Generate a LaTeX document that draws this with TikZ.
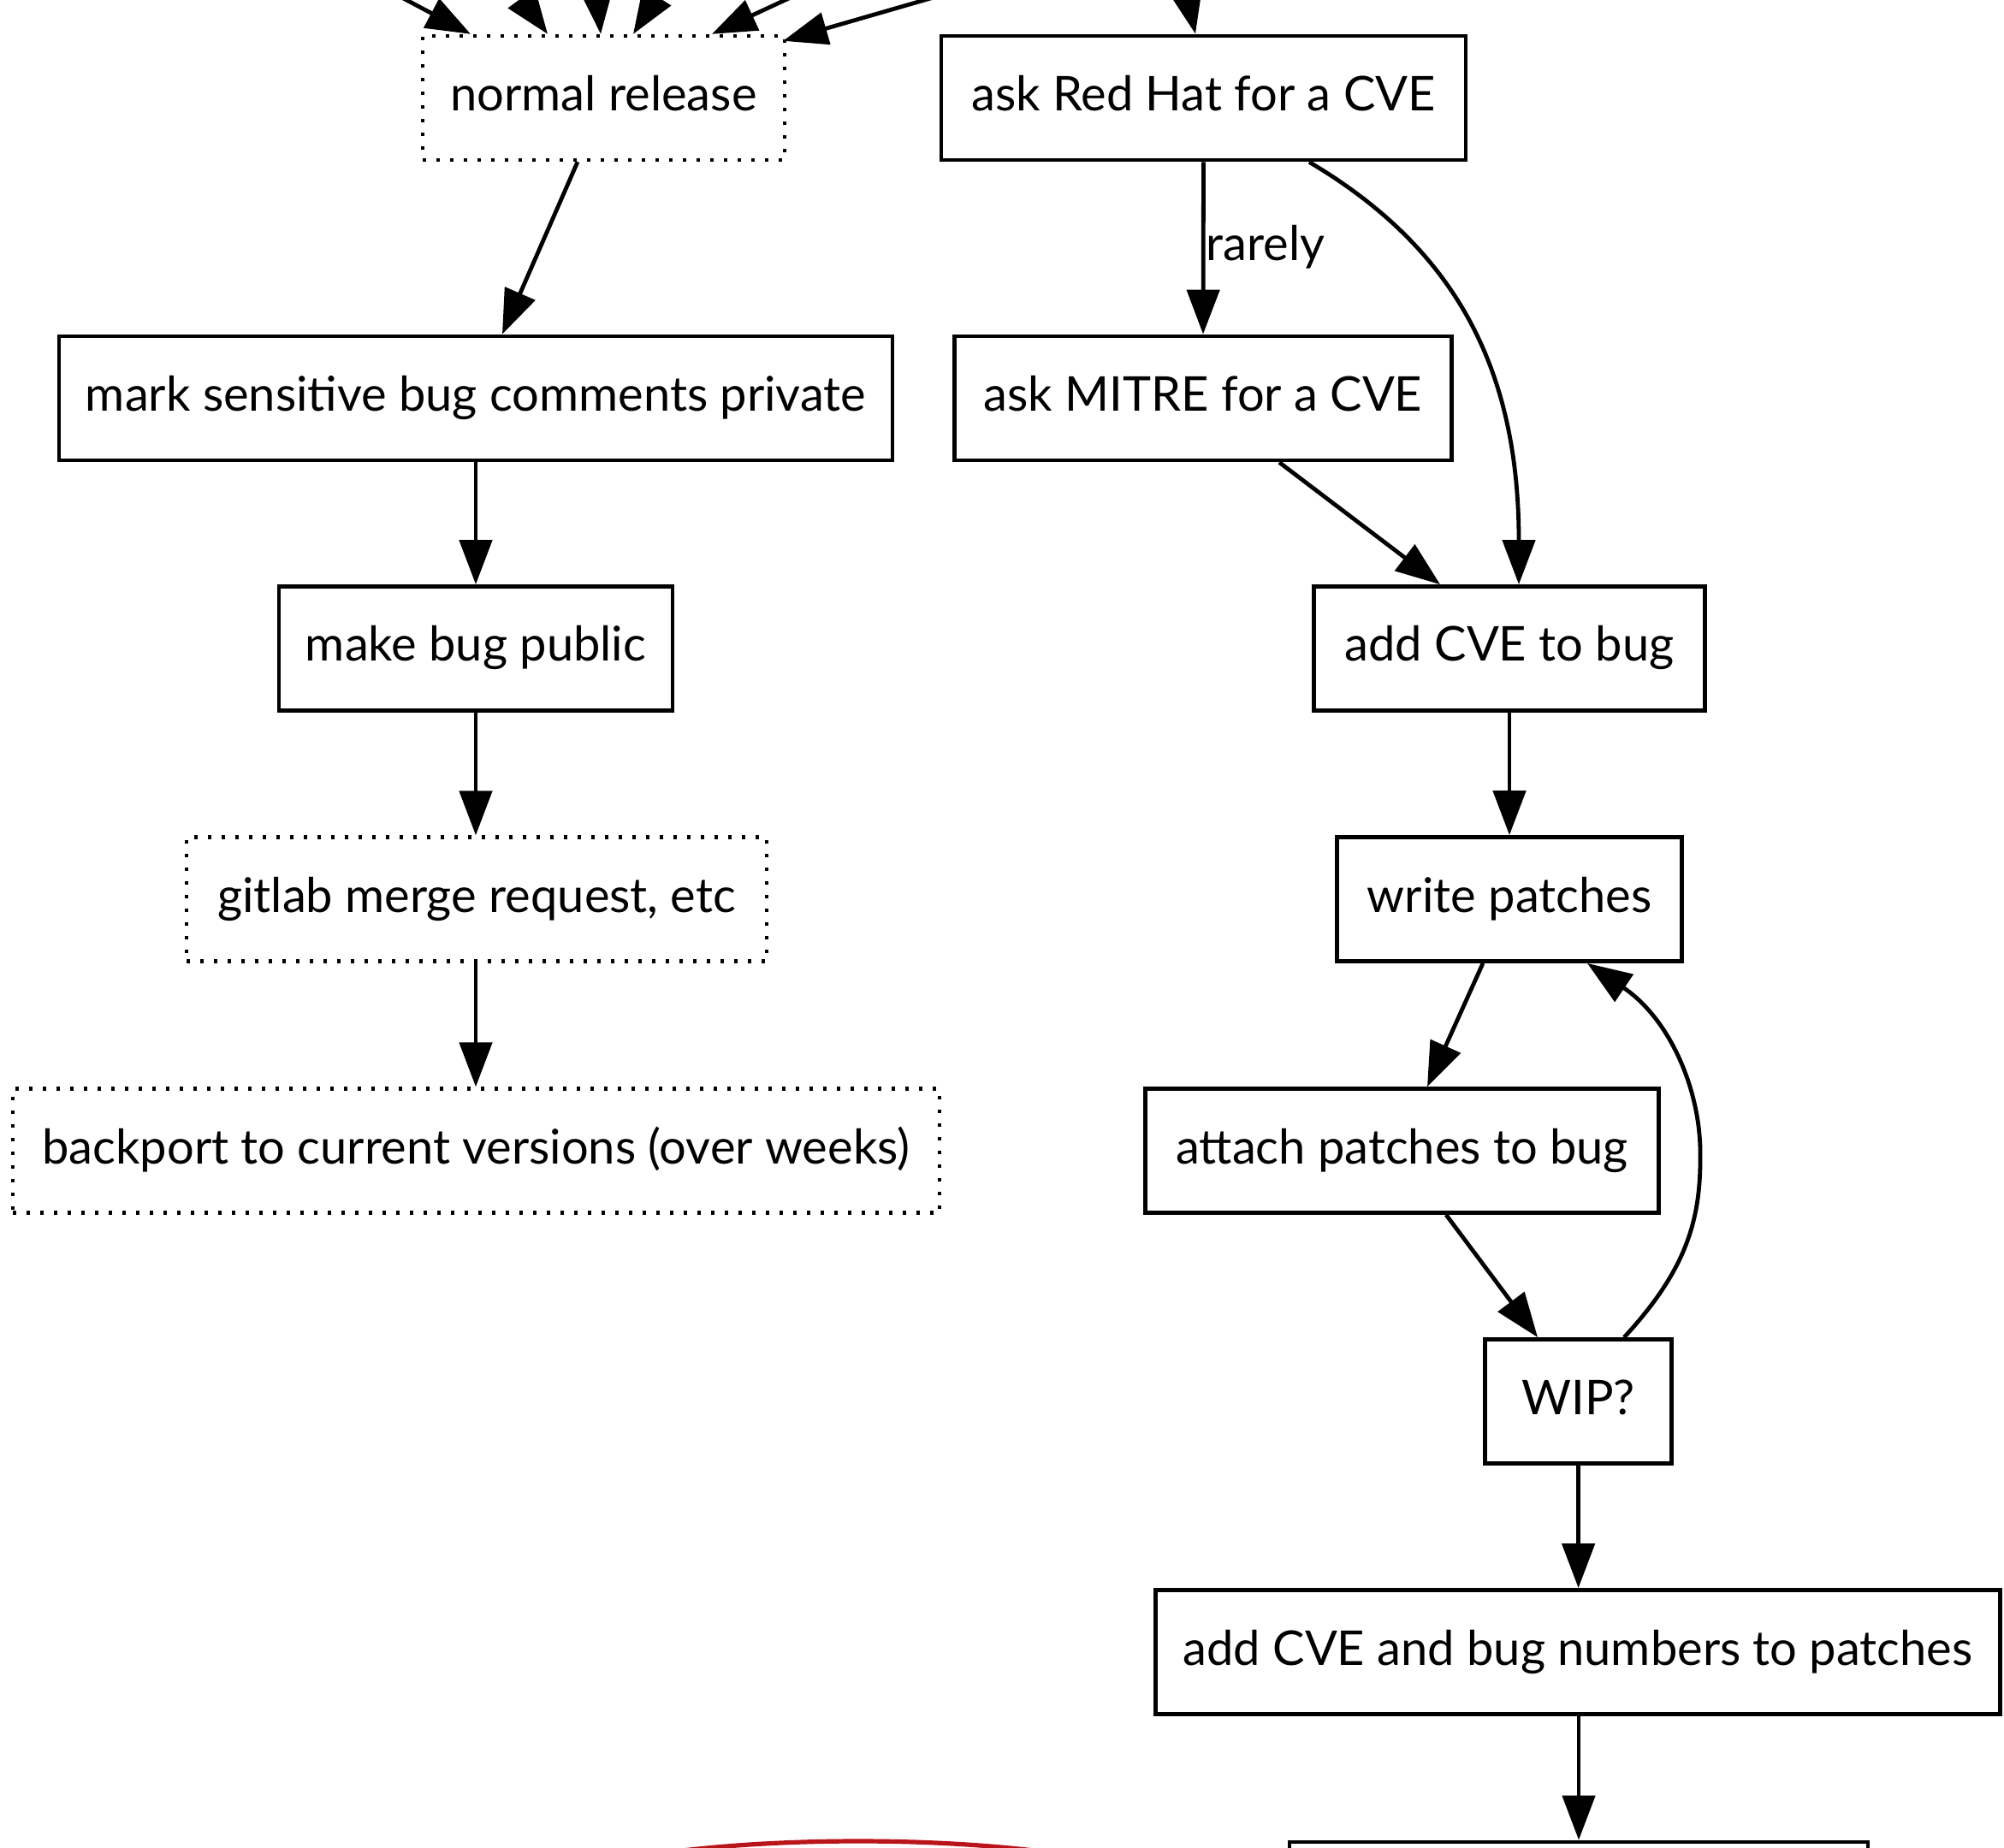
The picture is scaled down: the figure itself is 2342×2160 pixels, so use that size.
\documentclass[tikz,border=0pt]{standalone}
\usepackage{fontspec}
\setmainfont{Lato}
\usetikzlibrary{arrows.meta,calc,shapes.geometric}
\definecolor{ellred}{RGB}{185,20,25}
\tikzset{
  bx/.style={draw, line width=1.2pt, inner sep=0pt, minimum height=36.25pt,
    text height=10.5pt, text depth=3pt, font=\fontsize{14pt}{17pt}\selectfont},
  dotbx/.style={bx, line width=1.1pt, dash pattern=on 1pt off 3pt},
  wd/.style={minimum width=#1*0.25pt},
  edge/.style={line width=1.2pt, -{Triangle[length=13pt,width=9.5pt]}},
  lbl/.style={inner sep=0pt, font=\fontsize{14pt}{17pt}\selectfont},
}
\begin{document}
\begin{tikzpicture}[x=0.25pt, y=-0.25pt]
\useasboundingbox (0,0) rectangle (2342,2160);
\clip (0,0) rectangle (2342,2160);

% nodes
\node[dotbx, wd=423] (nr) at (705.5,114.5) {normal release};
\node[bx, wd=613] (rh) at (1406.5,114.5) {ask Red Hat for a CVE};
\node[bx, wd=974] (ms) at (556,465.5) {mark sensitive bug comments private};
\node[bx, wd=581] (mitre) at (1406,465.5) {ask MITRE for a CVE};
\node[bx, wd=460] (mbp) at (556,758) {make bug public};
\node[bx, wd=457] (acb) at (1764,758) {add CVE to bug};
\node[dotbx, wd=678] (gl) at (557,1051) {gitlab merge request, etc};
\node[bx, wd=403] (wp) at (1764,1051) {write patches};
\node[dotbx, wd=1083] (bp) at (556.4,1345) {backport to current versions (over weeks)};
\node[bx, wd=600] (ap) at (1638.5,1345) {attach patches to bug};
\node[bx, wd=218] (wip) at (1844.6,1638) {WIP?};
\node[bx, wd=987] (acbn) at (1844,1931) {add CVE and bug numbers to patches};
\node[bx, wd=676] (bb) at (1845,2225.5) {};
\node[ellipse, draw=ellred, line width=1.3pt, inner sep=0pt,
      minimum width=780*0.25pt, minimum height=147*0.25pt] (el) at (1003,2225.5) {};

\node[lbl, anchor=base west] (rarely) at (1409,305) {rarely};

% free ends of the cut-off incoming edges
\coordinate (s1) at (396,-42);
\coordinate (s2) at (580,-42);
\coordinate (s3) at (694,-42);
\coordinate (s4) at (792,-42);
\coordinate (s5) at (1008,-42);
\coordinate (s6) at (1226,-42);
\coordinate (s7) at (1379,-42);

\draw[edge] (s1) -- ($(nr.north)+(-155.5,0)$);
\draw[edge] (s2) -- ($(nr.north)+(-65.5,0)$);
\draw[edge] (s3) -- ($(nr.north)+(-3.5,0)$);
\draw[edge] (s4) -- ($(nr.north)+(34.5,0)$);
\draw[edge] (s5) -- ($(nr.north)+(126.5,0)$);
\draw[edge] (s6) -- ($(nr.north east)+(-4,8)$);
\draw[edge] (s7) -- ($(rh.north)+(-9.5,0)$);

% edges
\draw[edge] ($(nr.south)+(-30.5,0)$) -- ($(ms.north)+(31,0)$);
\draw[edge] (rh.south) -- (mitre.north);
\draw[edge] ($(rh.south)+(123.5,0)$) .. controls (1700,290) and (1775,430) .. ($(acb.north)+(11,0)$);
\draw[edge] ($(mitre.south)+(89,0)$) -- ($(acb.north)+(-81,0)$);
\draw[edge] (ms.south) -- (mbp.north);
\draw[edge] (mbp.south) -- (mbp.south |- gl.north);
\draw[edge] (gl.south -| mbp.south) -- (mbp.south |- bp.north);
\draw[edge] (acb.south) -- (wp.north);
\draw[edge] ($(wp.south)+(-31,0)$) -- ($(ap.north)+(29.5,0)$);
\draw[edge] ($(ap.south)+(51.5,0)$) -- ($(wip.north)+(-47.6,0)$);
\draw[edge] ($(wip.north)+(53.4,0)$) .. controls (1975,1480) and (1988,1420) .. (1987,1345)
   .. controls (1986,1270) and (1950,1190) .. ($(wp.south)+(91,0)$);
\draw[edge] (wip.south) -- (acbn.north -| wip.south);
\draw[edge] (acbn.south -| bb.north) -- (bb.north);
\end{tikzpicture}
\end{document}
